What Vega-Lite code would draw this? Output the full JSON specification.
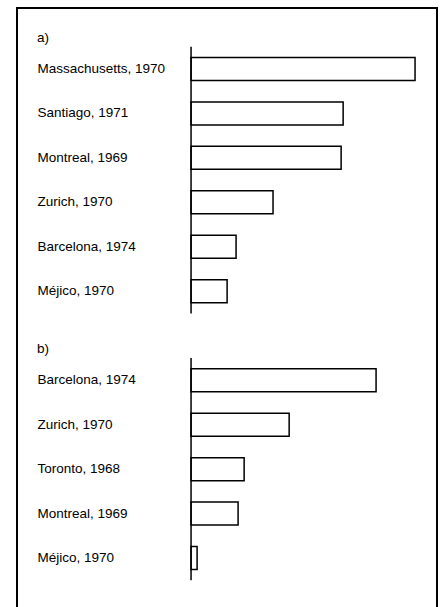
{
  "$schema": "https://vega.github.io/schema/vega-lite/v6.json",
  "autosize": {"type": "none"},
  "padding": {"left": 17, "top": 8, "right": 9, "bottom": 0},
  "width": 420,
  "height": 611,
  "background": "white",
  "config": {
    "view": {"stroke": "black", "strokeWidth": 2},
    "font": "Liberation Sans"
  },
  "datasets": {
    "bars": [
      {"key": "a|Massachusetts, 1970", "value": 100},
      {"key": "a|Santiago, 1971", "value": 67.9},
      {"key": "a|Montreal, 1969", "value": 67.0},
      {"key": "a|Zurich, 1970", "value": 36.6},
      {"key": "a|Barcelona, 1974", "value": 20.1},
      {"key": "a|Méjico, 1970", "value": 16.1},
      {"key": "b|Barcelona, 1974", "value": 82.6},
      {"key": "b|Zurich, 1970", "value": 43.8},
      {"key": "b|Toronto, 1968", "value": 23.7},
      {"key": "b|Montreal, 1969", "value": 21.0},
      {"key": "b|Méjico, 1970", "value": 2.7}
    ],
    "panels": [
      {"header": "a)", "first": "a|Massachusetts, 1970", "last": "a|Méjico, 1970"},
      {"header": "b)", "first": "b|Barcelona, 1974", "last": "b|Méjico, 1970"}
    ]
  },
  "encoding": {
    "y": {
      "field": "key",
      "type": "nominal",
      "scale": {
        "domain": [
          "a|Massachusetts, 1970", "a|Santiago, 1971", "a|Montreal, 1969", "a|Zurich, 1970", "a|Barcelona, 1974", "a|Méjico, 1970",
          "gap",
          "b|Barcelona, 1974", "b|Zurich, 1970", "b|Toronto, 1968", "b|Montreal, 1969", "b|Méjico, 1970"
        ],
        "paddingInner": 0,
        "paddingOuter": 0.87
      },
      "axis": {
        "title": null,
        "domain": false,
        "ticks": false,
        "labelAlign": "left",
        "labelPadding": -20,
        "labelFont": "Liberation Sans",
        "labelFontSize": 13.5,
        "labelColor": "black",
        "labelExpr": "indexof(datum.value, '|') >= 0 ? split(datum.value, '|')[1] : ''"
      }
    }
  },
  "layer": [
    {
      "data": {"name": "bars"},
      "mark": {"type": "bar", "height": 23, "fill": "white", "stroke": "black", "strokeWidth": 1.5},
      "encoding": {
        "x": {
          "field": "value",
          "type": "quantitative",
          "scale": {"domain": [-77.7, 109.8], "nice": false, "zero": false},
          "axis": null
        }
      }
    },
    {
      "data": {"name": "panels"},
      "mark": {"type": "rule", "stroke": "black", "strokeWidth": 1.5},
      "encoding": {
        "x": {"datum": 0, "type": "quantitative"},
        "y": {"field": "first", "type": "nominal", "bandPosition": 0},
        "y2": {"field": "last", "bandPosition": 1}
      }
    },
    {
      "data": {"name": "panels"},
      "mark": {"type": "text", "align": "left", "baseline": "middle", "dx": 20, "dy": -31, "fontSize": 13.5, "font": "Liberation Sans", "color": "black"},
      "encoding": {
        "x": {"datum": -77.7, "type": "quantitative"},
        "y": {"field": "first", "type": "nominal"},
        "text": {"field": "header"}
      }
    }
  ]
}
